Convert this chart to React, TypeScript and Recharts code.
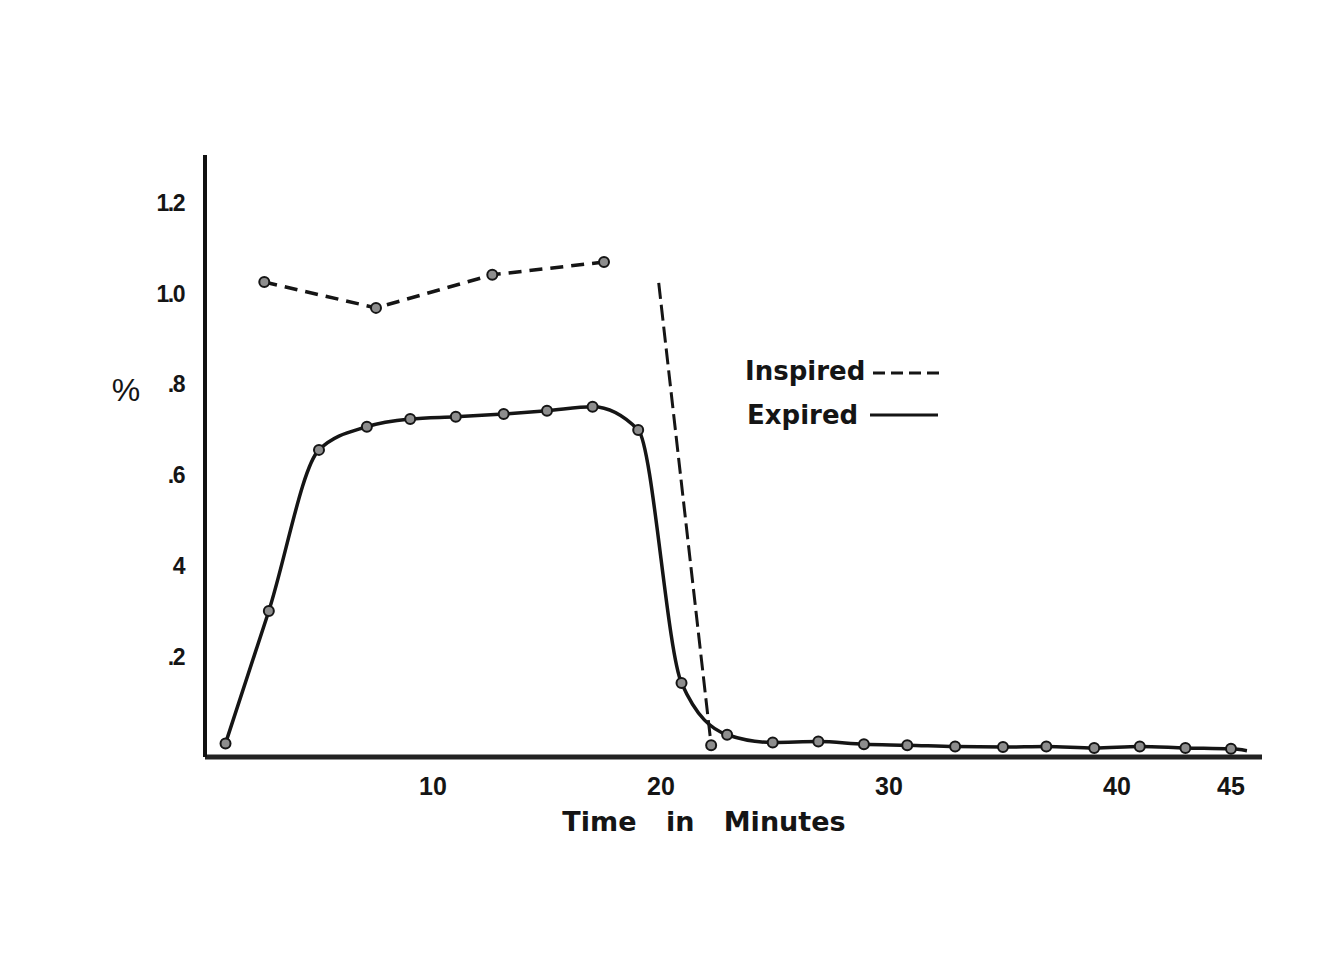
import { LineChart, Line, XAxis, YAxis, Legend } from 'recharts'

// expired concentration (minutes, %)
const expiredMinutes = [0.9, 2.8, 5.0, 7.1, 9.0, 11.0, 13.1, 15.0, 17.0, 19.0, 20.9, 22.9, 24.9, 26.9, 28.9, 30.8, 32.9, 35.0, 36.9, 39.0, 41.0, 43.0, 45.0, 45.7]
const expiredPct = [0.03, 0.322, 0.677, 0.728, 0.745, 0.75, 0.756, 0.763, 0.772, 0.721, 0.163, 0.049, 0.032, 0.034, 0.028, 0.026, 0.023, 0.022, 0.023, 0.02, 0.023, 0.02, 0.018, 0.014]

// inspired concentration while gas is on
const inspiredMinutes = [2.6, 7.5, 12.6, 17.5]
const inspiredPct = [1.047, 0.99, 1.063, 1.091]

// inspired drop after switch-off
const dropMinutes = [19.9, 22.2]
const dropPct = [1.045, 0.026]

const xTicks = [10, 20, 30, 40, 45]
const yTicks = [0.2, 0.4, 0.6, 0.8, 1.0, 1.2]
const yTickLabels = ['.2', '4', '.6', '.8', '1.0', '1.2']

const expired = expiredMinutes.map((t, i) => ({ t, v: expiredPct[i] }))
const inspired = inspiredMinutes.map((t, i) => ({ t, v: inspiredPct[i] }))
const drop = dropMinutes.map((t, i) => ({ t, v: dropPct[i] }))

const INK = '#151515'
const dotStyle = { r: 5, fill: '#8d8d8d', stroke: INK, strokeWidth: 2 }

function Marker(props: any) {
  const { cx, cy, index } = props
  return <circle key={`m-${index}`} cx={cx} cy={cy} r={dotStyle.r} fill={dotStyle.fill} stroke={dotStyle.stroke} strokeWidth={dotStyle.strokeWidth} />
}

function YTick({ x, y, payload }: any) {
  const label = yTickLabels[yTicks.indexOf(payload.value)]
  return (
    <text x={x} y={y - 10} dy="0.36em" textAnchor="end" fill={INK}
      style={{ fontFamily: 'Liberation Sans', fontWeight: 700, fontSize: 23, letterSpacing: -1.5 }}>
      {label}
    </text>
  )
}

function XTick({ x, y, payload }: any) {
  return (
    <text x={x} y={y + 16} textAnchor="middle" fill={INK}
      style={{ fontFamily: 'Liberation Sans', fontWeight: 700, fontSize: 25 }}>
      {payload.value}
    </text>
  )
}

function LegendBox() {
  const txt = { fontFamily: 'DejaVu Sans', fontWeight: 700, fontSize: 26, fill: INK }
  return (
    <svg width={220} height={90}>
      <text x={5} y={35} style={txt}>Inspired</text>
      <line x1={133} x2={202} y1={28} y2={28} stroke={INK} strokeWidth={3} strokeDasharray="12 6" />
      <text x={7} y={79} style={txt}>Expired</text>
      <line x1={130} x2={198} y1={70} y2={70} stroke={INK} strokeWidth={3} />
    </svg>
  )
}

export default function App() {
  return (
    <div style={{ position: 'absolute', left: 0, top: 0, background: '#fff' }}>
      <LineChart width={1342} height={965} margin={{ top: 155, right: 80, bottom: 0, left: 100 }}>
        <XAxis
          type="number"
          dataKey="t"
          domain={[0, 46.36]}
          ticks={xTicks}
          allowDataOverflow
          height={208}
          tickSize={0}
          tickMargin={22}
          tick={<XTick />}
          axisLine={{ stroke: '#222', strokeWidth: 5 }}
          label={{
            content: ({ viewBox }: any) => (
              <text x={viewBox.x + 499} y={viewBox.y + 74} textAnchor="middle" fill={INK}
                style={{ fontFamily: 'DejaVu Sans', fontWeight: 700, fontSize: 27, wordSpacing: 20 }}>
                Time in Minutes
              </text>
            ),
          }}
        />
        <YAxis
          type="number"
          dataKey="v"
          domain={[0, 1.327]}
          ticks={yTicks}
          allowDataOverflow
          width={105}
          tickSize={0}
          tickMargin={21}
          tick={<YTick />}
          axisLine={{ stroke: '#111', strokeWidth: 4 }}
          label={{
            content: ({ viewBox }: any) => (
              <text x={viewBox.x + 26} y={viewBox.y + 246} textAnchor="middle" fill={INK}
                style={{ fontFamily: 'Liberation Sans', fontSize: 32 }}>
                %
              </text>
            ),
          }}
        />
        <Legend
          layout="horizontal"
          verticalAlign="middle"
          align="center"
          content={() => <LegendBox />}
          wrapperStyle={{ left: 740, top: 345, width: 220, height: 90 }}
        />
        <Line
          data={expired}
          dataKey="v"
          type="monotone"
          stroke={INK}
          strokeWidth={3.5}
          dot={(p: any) => (p.index < expired.length - 1 ? <Marker {...p} /> : <g key={`e-${p.index}`} />)}
          isAnimationActive={false}
        />
        <Line
          data={inspired}
          dataKey="v"
          type="linear"
          stroke={INK}
          strokeWidth={3.5}
          strokeDasharray="13 8"
          dot={(p: any) => <Marker {...p} />}
          isAnimationActive={false}
        />
        <Line
          data={drop}
          dataKey="v"
          type="linear"
          stroke={INK}
          strokeWidth={3}
          strokeDasharray="16 6"
          dot={(p: any) => (p.index === drop.length - 1 ? <Marker {...p} /> : <g key={`d-${p.index}`} />)}
          isAnimationActive={false}
        />
      </LineChart>
    </div>
  )
}
